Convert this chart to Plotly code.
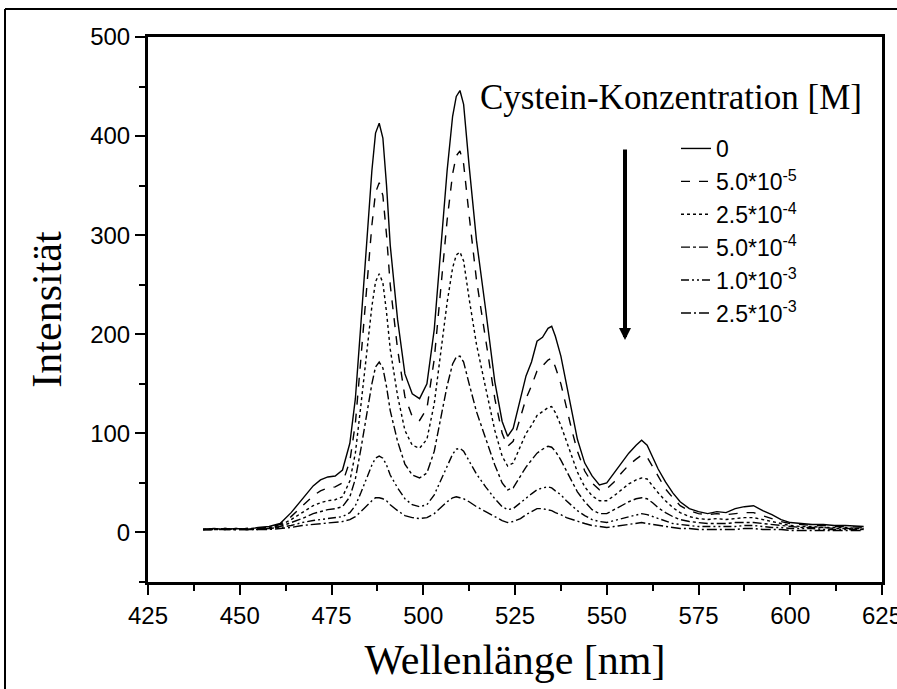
import plotly.graph_objects as go

# ---- data ----
wavelength = [440, 443, 446, 449, 452, 455, 458, 461, 464, 467, 470, 472, 474, 476, 478, 480,
              481.5, 483, 484.5, 486, 487, 488, 489, 490, 491, 493, 495, 497, 499, 501, 503, 505,
              506.5, 508, 509, 510, 511, 512.5, 514.5, 517, 519.5, 521.5, 523, 524.5, 526.5, 528,
              529.5, 531, 532.5, 534, 535, 536, 537.5, 539, 540.5, 542, 544, 546, 548, 550, 552,
              554, 556, 558, 559.5, 561, 562.5, 564, 566, 568, 570, 572.5, 575, 577.5, 580, 582.5,
              585, 587.5, 590, 592.5, 595, 597.5, 600, 603, 606, 609, 612, 615, 618, 620]

c_0 = [3, 4, 3, 4, 3, 5, 6, 9, 20, 34, 47, 53, 56, 57, 63, 90,
       135, 210, 290, 365, 403, 413, 398, 350, 290, 215, 160, 140, 135, 150, 205, 300,
       365, 420, 440, 446, 432, 370, 295, 225, 152, 112, 97, 105, 137, 158,
       172, 193, 197, 206, 208, 198, 178, 148, 122, 94, 70, 57, 48, 50, 60,
       70, 80, 88, 93, 88, 76, 64, 51, 40, 31, 24, 21, 19, 21, 20,
       24, 26, 27, 22, 18, 13, 10, 9, 8, 8, 7, 7, 6, 6]
c_5e5 = [3, 3, 4, 3, 4, 4, 5, 8, 16, 27, 37, 42, 45, 46, 50, 72,
         110, 175, 245, 310, 343, 353, 340, 300, 250, 185, 137, 117, 113, 125, 175, 258,
         315, 362, 380, 385, 372, 320, 255, 195, 135, 100, 87, 92, 118, 135,
         148, 163, 168, 174, 176, 167, 150, 126, 103, 82, 62, 50, 43, 44, 51,
         60, 68, 74, 78, 76, 66, 56, 44, 35, 27, 22, 19, 18, 19, 18,
         19, 20, 20, 17, 14, 11, 9, 8, 7, 7, 6, 6, 5, 5]
c_25e4 = [3, 4, 3, 3, 4, 4, 5, 7, 13, 20, 27, 30, 32, 33, 36, 52,
          80, 128, 180, 228, 253, 261, 252, 222, 185, 138, 103, 88, 85, 94, 130, 190,
          232, 267, 280, 283, 274, 236, 190, 146, 103, 77, 67, 70, 88, 100,
          108, 118, 122, 126, 127, 121, 108, 92, 76, 61, 46, 37, 32, 32, 37,
          43, 49, 53, 55, 54, 47, 40, 32, 25, 20, 16, 14, 13, 14, 13,
          14, 15, 15, 13, 11, 9, 7, 6, 6, 5, 5, 5, 4, 4]
c_5e4 = [3, 3, 4, 3, 3, 4, 4, 6, 10, 14, 19, 21, 23, 24, 26, 36,
         54, 84, 118, 150, 167, 172, 166, 147, 123, 92, 69, 58, 55, 60, 82, 120,
         148, 170, 177, 178, 172, 150, 122, 95, 68, 50, 43, 45, 57, 66,
         73, 80, 84, 87, 86, 82, 73, 62, 51, 41, 31, 23, 19, 19, 23,
         27, 31, 34, 35, 34, 30, 25, 20, 16, 13, 11, 10, 9, 9, 9,
         10, 10, 10, 9, 8, 7, 6, 5, 5, 5, 4, 4, 4, 3]
c_1e3 = [3, 3, 3, 4, 3, 3, 4, 5, 7, 10, 12, 13, 14, 15, 16, 20,
         27, 40, 55, 68, 75, 77, 75, 68, 58, 45, 34, 28, 26, 28, 38, 55,
         68, 79, 84, 85, 82, 72, 59, 46, 34, 26, 23, 24, 30, 35,
         39, 43, 45, 46, 45, 42, 38, 32, 27, 22, 17, 13, 11, 10, 12,
         14, 16, 18, 19, 18, 16, 14, 11, 9, 8, 7, 6, 6, 6, 6,
         6, 7, 7, 6, 5, 5, 4, 4, 4, 3, 3, 3, 3, 3]
c_25e3 = [3, 3, 3, 3, 3, 3, 3, 4, 5, 7, 8, 9, 10, 10, 11, 13,
          16, 21, 27, 32, 35, 35, 34, 32, 28, 22, 17, 15, 14, 15, 19, 26,
          31, 35, 36, 35, 34, 31, 26, 21, 16, 12, 10, 11, 14, 18,
          21, 24, 24, 23, 22, 20, 18, 15, 13, 11, 9, 7, 6, 5, 6,
          7, 8, 9, 10, 9, 8, 7, 6, 5, 4, 4, 3, 3, 3, 3,
          3, 4, 4, 3, 3, 3, 2, 2, 2, 2, 2, 2, 2, 2]

series_names = ["0", "5.0*10<sup>-5</sup>", "2.5*10<sup>-4</sup>", "5.0*10<sup>-4</sup>",
                "1.0*10<sup>-3</sup>", "2.5*10<sup>-3</sup>"]
series_values = [c_0, c_5e5, c_25e4, c_5e4, c_1e3, c_25e3]
series_dash = ["solid", "dash", "dot", "dashdot", "8px,3px,2px,3px,2px,3px", "10px,3px,2px,3px"]

x_ticks = [425, 450, 475, 500, 525, 550, 575, 600, 625]
y_ticks = [0, 100, 200, 300, 400, 500]

for v in series_values:
    assert len(v) == len(wavelength)

# ---- layout geometry ----
W, H = 897, 689
ML, MR, MT, MB = 148, 15, 37, 107
PW, PH = W - ML - MR, H - MT - MB


def px(x):
    return (x - ML) / PW


def py(y):
    return (H - MB - y) / PH


fig = go.Figure()
for name, vals, dash in zip(series_names, series_values, series_dash):
    fig.add_trace(go.Scatter(
        x=wavelength, y=vals, mode="lines", name=name, legendgroup=name,
        line=dict(color="black", width=1.4, dash=dash),
    ))

sans = "Liberation Sans, Arial, sans-serif"
serif = "Liberation Serif, Times New Roman, serif"

fig.update_layout(
    width=W, height=H,
    margin=dict(l=ML, r=MR, t=MT, b=MB, autoexpand=False),
    paper_bgcolor="white", plot_bgcolor="white",
    font=dict(family=sans, color="black", size=24),
    showlegend=True,
    legend=dict(
        x=px(676), y=py(127), xanchor="left", yanchor="top",
        bgcolor="rgba(0,0,0,0)", borderwidth=0,
        font=dict(family=sans, size=23, color="black"),
        tracegroupgap=0, traceorder="grouped",
    ),
    xaxis=dict(
        range=[425, 625], tickvals=x_ticks, ticktext=[str(t) for t in x_ticks],
        showgrid=False, zeroline=False,
        showline=True, linecolor="black", linewidth=3, mirror=True,
        ticks="outside", ticklen=10, tickwidth=2, tickcolor="black",
        minor=dict(dtick=12.5, tick0=425, ticks="outside", ticklen=6, tickwidth=2, tickcolor="black"),
        tickfont=dict(family=sans, size=24), ticklabeloverflow="allow",
        title=dict(text="Wellenlänge [nm]", font=dict(family=serif, size=42), standoff=17),
    ),
    yaxis=dict(
        range=[-50, 500], tickvals=y_ticks, ticktext=[str(t) for t in y_ticks],
        showgrid=False, zeroline=False,
        showline=True, linecolor="black", linewidth=3, mirror=True,
        ticks="outside", ticklen=10, tickwidth=2, tickcolor="black",
        minor=dict(dtick=50, tick0=0, ticks="outside", ticklen=6, tickwidth=2, tickcolor="black"),
        tickfont=dict(family=sans, size=24), ticklabeloverflow="allow",
        title=dict(text="Intensität", font=dict(family=serif, size=42), standoff=16),
    ),
)

# legend title
fig.add_annotation(
    text="Cystein-Konzentration [M]", xref="paper", yref="paper",
    x=px(864), y=py(97), xanchor="right", yanchor="middle",
    showarrow=False, font=dict(family=serif, size=35, color="black"),
)
# arrow indicating increasing concentration
fig.add_annotation(
    text="", xref="paper", yref="paper", x=px(625), y=py(340),
    ax=0, ay=-192, showarrow=True, arrowhead=2, arrowsize=0.6,
    arrowwidth=4, arrowcolor="black",
)
# outer image frame (top and left edges)
fig.add_shape(type="line", xref="paper", yref="paper",
              x0=px(5), x1=px(897), y0=py(9), y1=py(9), line=dict(color="black", width=2))
fig.add_shape(type="line", xref="paper", yref="paper",
              x0=px(5), x1=px(5), y0=py(9), y1=py(689), line=dict(color="black", width=2))

fig.write_html(
    "out.html",
    config={"displayModeBar": False},
    post_script="document.body.style.margin='0px';document.body.style.padding='0px';",
)
